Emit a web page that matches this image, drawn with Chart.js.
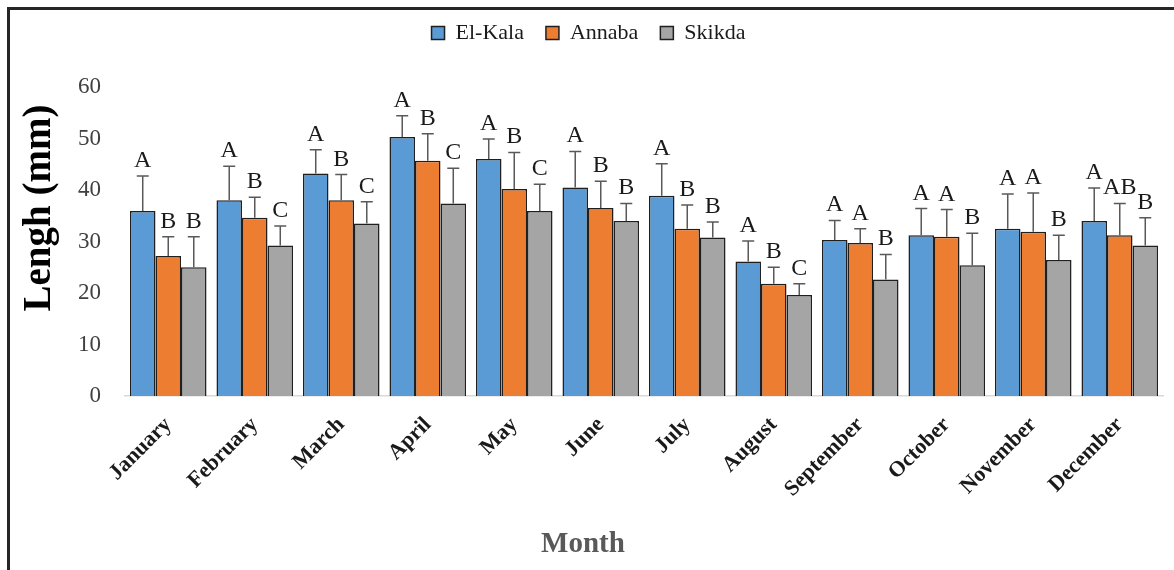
<!DOCTYPE html>
<html>
<head>
<meta charset="utf-8">
<title>Lengh (mm) por mês</title>
<script src="https://cdn.jsdelivr.net/npm/chart.js@4"></script>
<style>
  body { margin: 0; background: #ffffff; }
  #wrap { position: relative; width: 1174px; height: 570px; }
  #frame { position: absolute; left: 7px; top: 7px; right: 0; bottom: 0; border-top: 3px solid #262626; border-left: 3px solid #262626; pointer-events: none; }
</style>
</head>
<body>
<div id="wrap">
  <canvas id="barChart" width="1174" height="570"></canvas>
  <div id="frame"></div>
</div>
<script>
// Meses (categorias do eixo X)
var meses = ["January", "February", "March", "April", "May", "June", "July", "August", "September", "October", "November", "December"];

// Médias de comprimento (mm) por localidade
var elKala = [35.9, 38.0, 43.2, 50.3, 46.0, 40.5, 38.9, 26.1, 30.3, 31.2, 32.5, 34.0];
var annaba = [27.2, 34.6, 38.0, 45.7, 40.2, 36.5, 32.5, 21.8, 29.7, 30.9, 31.9, 31.2];
var skikda = [25.0, 29.2, 33.5, 37.4, 35.9, 34.0, 30.8, 19.6, 22.6, 25.4, 26.4, 29.2];

// Desvios padrão (barras de erro, só para cima)
var elKalaSd = [6.8, 6.6, 4.6, 4.1, 3.9, 7.0, 6.2, 4.0, 3.8, 5.2, 6.7, 6.4];
var annabaSd = [3.7, 4.0, 5.0, 5.2, 7.1, 5.2, 4.6, 3.2, 2.8, 5.3, 7.5, 6.2];
var skikdaSd = [5.9, 3.8, 4.2, 6.8, 5.2, 3.4, 3.0, 2.2, 4.9, 6.2, 4.8, 5.4];

// Letras de significância acima de cada barra
var elKalaLetras = ["A", "A", "A", "A", "A", "A", "A", "A", "A", "A", "A", "A"];
var annabaLetras = ["B", "B", "B", "B", "B", "B", "B", "B", "A", "A", "A", "AB"];
var skikdaLetras = ["B", "C", "C", "C", "C", "B", "B", "C", "B", "B", "B", "B"];

// Ticks do eixo Y
var ticksY = [0, 10, 20, 30, 40, 50, 60];

document.addEventListener("DOMContentLoaded", function()
{
  var serif = '"Liberation Serif", "Times New Roman", serif';
  var sds = [elKalaSd, annabaSd, skikdaSd];
  var letras = [elKalaLetras, annabaLetras, skikdaLetras];

  // Desenha barras de erro e letras usando as escalas do gráfico
  var extras = {
    id: "extras",
    afterDatasetsDraw: function(chart)
    {
      var ctx = chart.ctx;
      var y = chart.scales.y;
      chart.data.datasets.forEach(function(ds, i)
      {
        var meta = chart.getDatasetMeta(i);
        meta.data.forEach(function(bar, j)
        {
          var topo = y.getPixelForValue(ds.data[j] + sds[i][j]);
          ctx.save();
          ctx.strokeStyle = "#595959";
          ctx.lineWidth = 1.5;
          ctx.beginPath();
          ctx.moveTo(bar.x, bar.y);
          ctx.lineTo(bar.x, topo);
          ctx.moveTo(bar.x - 6, topo);
          ctx.lineTo(bar.x + 6, topo);
          ctx.stroke();
          ctx.fillStyle = "#1a1a1a";
          ctx.font = "24px " + serif;
          ctx.textAlign = "center";
          ctx.textBaseline = "alphabetic";
          ctx.fillText(letras[i][j], bar.x, topo - 9);
          ctx.restore();
        });
      });
    },
    // Títulos dos eixos (posição como no original, fora do centro)
    afterDraw: function(chart)
    {
      var ctx = chart.ctx;
      ctx.save();
      ctx.textAlign = "center";
      ctx.textBaseline = "middle";
      ctx.fillStyle = "#595959";
      ctx.font = "bold 29px " + serif;
      ctx.fillText("Month", 583, 545);
      ctx.translate(40, 208);
      ctx.rotate(-Math.PI / 2);
      ctx.fillStyle = "#000000";
      ctx.font = "bold 39px " + serif;
      ctx.fillText("Lengh (mm)", 0, 0);
      ctx.restore();
    }
  };

  // Altura fixa da legenda
  var margemLegenda = {
    id: "margemLegenda",
    beforeInit: function(chart)
    {
      var fitOriginal = chart.legend.fit;
      chart.legend.fit = function()
      {
        fitOriginal.bind(chart.legend)();
        this.height = 87;
      };
    }
  };

  var ctxBar = document.getElementById("barChart").getContext("2d");

  new Chart(ctxBar,
  {
    type: "bar",
    data:
    {
      labels: meses,
      datasets: [
        { label: "El-Kala", data: elKala, backgroundColor: "#5B9BD5", borderColor: "#1f1f1f", borderWidth: 1.5 },
        { label: "Annaba", data: annaba, backgroundColor: "#ED7D31", borderColor: "#1f1f1f", borderWidth: 1.5 },
        { label: "Skikda", data: skikda, backgroundColor: "#A5A5A5", borderColor: "#1f1f1f", borderWidth: 1.5 }
      ]
    },
    options:
    {
      responsive: false,
      animation: false,
      layout: { padding: { left: 14, top: 0, right: 11, bottom: 8 } },
      datasets: { bar: { categoryPercentage: 0.885, barPercentage: 1.0 } },
      plugins:
      {
        tooltip: { enabled: false },
        legend:
        {
          position: "top",
          labels:
          {
            boxWidth: 13,
            boxHeight: 13,
            padding: 22,
            color: "#1a1a1a",
            font: { family: serif, size: 22 }
          }
        }
      },
      scales:
      {
        x:
        {
          grid: { display: false },
          border: { display: true, color: "#d9d9d9", width: 1.5 },
          ticks:
          {
            minRotation: 45,
            maxRotation: 45,
            padding: 8,
            color: "#1a1a1a",
            font: { family: serif, size: 22, weight: "bold" }
          },
          afterFit: function(scale) { scale.height = 570 - 396 - 8; }
        },
        y:
        {
          min: 0,
          max: 60,
          afterBuildTicks: function(scale) { scale.ticks = ticksY.map(function(v) { return { value: v }; }); },
          grid: { display: false },
          border: { display: false },
          ticks:
          {
            padding: 16,
            color: "#404040",
            font: { family: serif, size: 23 }
          },
          afterFit: function(scale) { scale.width = 125 - 14; }
        }
      }
    },
    plugins: [margemLegenda, extras]
  });
});
</script>
</body>
</html>
